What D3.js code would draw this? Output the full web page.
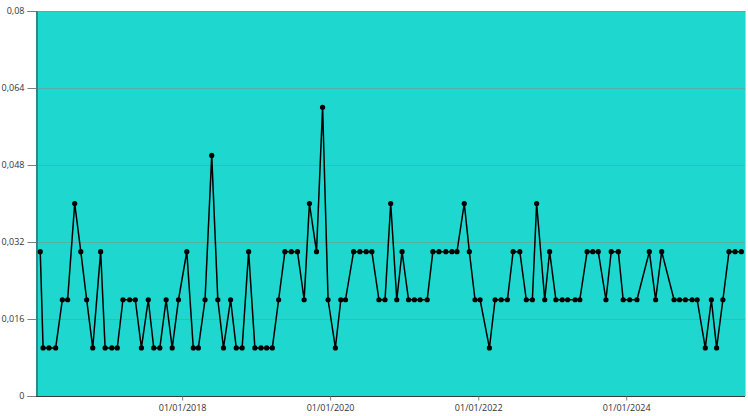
<!DOCTYPE html>
<html>
<head>
<meta charset="utf-8">
<script src="https://cdn.jsdelivr.net/npm/d3@7"></script>
<style>
  html, body { margin: 0; padding: 0; background: #ffffff; }
  svg { display: block; }
  text { font-family: "Open Sans", "DejaVu Sans", sans-serif; }
</style>
</head>
<body>
<svg id="chart" width="748" height="416"></svg>
<script>
// ---- data ----
const dates = [
  "2016-02-01","2016-02-15","2016-03-15","2016-04-17","2016-05-20","2016-06-15","2016-07-20","2016-08-19","2016-09-17","2016-10-17",
  "2016-11-25","2016-12-17","2017-01-19","2017-02-15","2017-03-15","2017-04-17","2017-05-15","2017-06-14","2017-07-18","2017-08-14",
  "2017-09-13","2017-10-14","2017-11-13","2017-12-14","2018-01-24","2018-02-25","2018-03-22","2018-04-24","2018-05-27","2018-06-26",
  "2018-07-24","2018-08-28","2018-09-25","2018-10-24","2018-11-25","2018-12-26","2019-01-25","2019-02-22","2019-03-22","2019-04-22",
  "2019-05-23","2019-06-24","2019-07-24","2019-08-26","2019-09-21","2019-10-26","2019-11-25","2019-12-22","2020-01-27","2020-02-23",
  "2020-03-17","2020-04-26","2020-05-27","2020-06-27","2020-07-25","2020-08-29","2020-09-28","2020-10-26","2020-11-25","2020-12-21",
  "2021-01-22","2021-02-20","2021-03-20","2021-04-24","2021-05-22","2021-06-21","2021-07-25","2021-08-24","2021-09-18","2021-10-24",
  "2021-11-18","2021-12-16","2022-01-10","2022-02-25","2022-03-25","2022-04-24","2022-05-25","2022-06-22","2022-07-25","2022-08-26",
  "2022-09-25","2022-10-16","2022-11-25","2022-12-19","2023-01-19","2023-02-19","2023-03-18","2023-04-24","2023-05-17","2023-06-22",
  "2023-07-20","2023-08-16","2023-09-23","2023-10-19","2023-11-23","2023-12-17","2024-01-18","2024-02-23","2024-04-24","2024-05-25",
  "2024-06-24","2024-08-24","2024-09-20","2024-10-19","2024-11-21","2024-12-16","2025-01-25","2025-02-24","2025-03-22","2025-04-22",
  "2025-05-22","2025-06-21","2025-07-22"
];
const values = [
  0.03,0.01,0.01,0.01,0.02,0.02,0.04,0.03,0.02,0.01,
  0.03,0.01,0.01,0.01,0.02,0.02,0.02,0.01,0.02,0.01,
  0.01,0.02,0.01,0.02,0.03,0.01,0.01,0.02,0.05,0.02,
  0.01,0.02,0.01,0.01,0.03,0.01,0.01,0.01,0.01,0.02,
  0.03,0.03,0.03,0.02,0.04,0.03,0.06,0.02,0.01,0.02,
  0.02,0.03,0.03,0.03,0.03,0.02,0.02,0.04,0.02,0.03,
  0.02,0.02,0.02,0.02,0.03,0.03,0.03,0.03,0.03,0.04,
  0.03,0.02,0.02,0.01,0.02,0.02,0.02,0.03,0.03,0.02,
  0.02,0.04,0.02,0.03,0.02,0.02,0.02,0.02,0.02,0.03,
  0.03,0.03,0.02,0.03,0.03,0.02,0.02,0.02,0.03,0.02,
  0.03,0.02,0.02,0.02,0.02,0.02,0.01,0.02,0.01,0.02,
  0.03,0.03,0.03
];
const yTicks = [0, 0.016, 0.032, 0.048, 0.064, 0.08];
const xTicks = ["2018-01-01", "2020-01-01", "2022-01-01", "2024-01-01"];
const xDomain = ["2016-01-11", "2025-08-09"];

(function () {
  const svg = d3.select("#chart");
  const mLeft = 36, mTop = 11, mRight = 745, mBottom = 396;
  const parse = d3.utcParse("%Y-%m-%d");
  const data = dates.map((d, i) => ({ date: parse(d), value: values[i] }));

  const x = d3.scaleUtc().domain(xDomain.map(parse)).range([mLeft, mRight]);
  const y = d3.scaleLinear().domain([0, 0.08]).range([mBottom, mTop]);

  // plot background
  svg.append("rect")
    .attr("x", mLeft).attr("y", mTop)
    .attr("width", mRight - mLeft).attr("height", mBottom - mTop)
    .attr("fill", "#1ed8cf");

  // right border
  svg.append("line")
    .attr("x1", mRight + 0.5).attr("x2", mRight + 0.5)
    .attr("y1", mTop).attr("y2", mBottom)
    .attr("stroke", "#c8c8c8").attr("stroke-width", 1);

  // gridlines
  svg.append("g")
    .selectAll("line")
    .data(yTicks.filter(t => t > 0))
    .join("line")
    .attr("x1", mLeft).attr("x2", mRight)
    .attr("y1", d => Math.round(y(d)) + 0.5).attr("y2", d => Math.round(y(d)) + 0.5)
    .attr("stroke", "#5aaca7")
    .attr("stroke-width", 1)
    .attr("shape-rendering", "crispEdges");

  const fmt = v => v === 0 ? "0" : String(+v.toFixed(3)).replace(".", ",");

  // y axis
  const yAxis = svg.append("g")
    .attr("transform", `translate(${mLeft + 0.5},0)`)
    .call(d3.axisLeft(y).tickValues(yTicks).tickFormat(fmt).tickSize(9).tickPadding(3));
  yAxis.select(".domain").attr("stroke", "#3a3a3a").attr("stroke-width", 1);
  yAxis.selectAll(".tick line").attr("stroke", "#808080");
  yAxis.selectAll(".tick text").attr("fill", "#333").attr("font-size", 9);

  // x axis
  const xAxis = svg.append("g")
    .attr("transform", `translate(0,${mBottom + 0.5})`)
    .call(d3.axisBottom(x).tickValues(xTicks.map(parse)).tickFormat(d3.utcFormat("%d/%m/%Y")).tickSize(4).tickPadding(4));
  xAxis.select(".domain").attr("stroke", "#3a3a3a").attr("stroke-width", 1).attr("d", `M${mLeft},0H${mRight}`);
  xAxis.selectAll(".tick line").attr("stroke", "#808080");
  xAxis.selectAll(".tick text").attr("fill", "#333").attr("font-size", 9);

  // line
  const line = d3.line().x(d => x(d.date)).y(d => y(d.value));
  svg.append("path")
    .datum(data)
    .attr("d", line)
    .attr("fill", "none")
    .attr("stroke", "#000")
    .attr("stroke-width", 1.5)
    .attr("stroke-linejoin", "round");

  // points
  svg.append("g")
    .selectAll("circle")
    .data(data)
    .join("circle")
    .attr("cx", d => x(d.date))
    .attr("cy", d => y(d.value))
    .attr("r", 2.6)
    .attr("fill", "#000");
})();
</script>
</body>
</html>
